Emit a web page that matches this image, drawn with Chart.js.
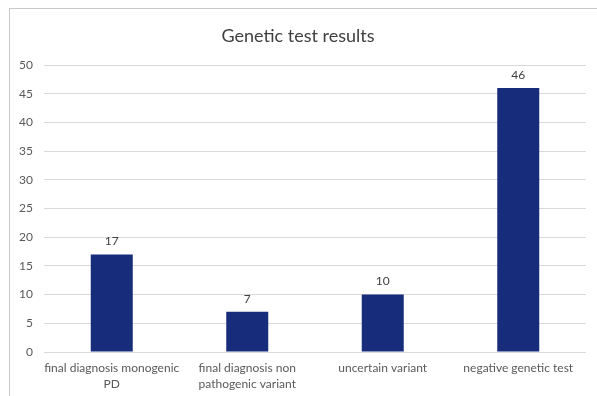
<!DOCTYPE html>
<html>
<head>
<meta charset="utf-8">
<script src="https://cdn.jsdelivr.net/npm/chart.js@4/dist/chart.umd.min.js"></script>
<style>
  html, body { margin: 0; padding: 0; background: #fff; overflow: hidden; }
  #wrap { position: relative; width: 597px; height: 396px; }
  #frame { position: absolute; left: 9px; top: 8px; width: 600px; height: 400px; border: 1px solid #c8c8c8; box-sizing: border-box; }
  canvas { position: absolute; left: 0; top: 0; }
</style>
</head>
<body>
<div id="wrap">
  <div id="frame"></div>
  <canvas id="chart" width="597" height="396"></canvas>
</div>
<script>
// data
const categories = [
  ['final diagnosis monogenic', 'PD'],
  ['final diagnosis non', 'pathogenic variant'],
  'uncertain variant',
  'negative genetic test'
];
const counts = [17, 7, 10, 46];
const yTicks = [0, 5, 10, 15, 20, 25, 30, 35, 40, 45, 50];

const FONT = "Lato, 'Open Sans', sans-serif";

// draw the value above each bar
const valueLabels = {
  id: 'valueLabels',
  afterDatasetsDraw(chart) {
    const ctx = chart.ctx;
    const meta = chart.getDatasetMeta(0);
    ctx.save();
    ctx.font = '12px ' + FONT;
    ctx.fillStyle = '#404040';
    ctx.textAlign = 'center';
    ctx.textBaseline = 'bottom';
    meta.data.forEach((bar, i) => {
      ctx.fillText(String(counts[i]), bar.x, bar.y - 7);
    });
    ctx.restore();
  }
};

new Chart(document.getElementById('chart'), {
  type: 'bar',
  data: {
    labels: categories,
    datasets: [{
      data: counts,
      backgroundColor: '#172d7c',
      borderWidth: 0,
      barPercentage: 0.31,
      categoryPercentage: 1
    }]
  },
  options: {
    responsive: false,
    animation: false,
    layout: { padding: { left: 10, right: 11, top: 11, bottom: 2 } },
    plugins: {
      legend: { display: false },
      tooltip: { enabled: false },
      title: {
        display: true,
        text: 'Genetic test results',
        color: '#404040',
        font: { family: FONT, size: 18, weight: 'normal' },
        padding: { top: 14, bottom: 18.4 }
      }
    },
    scales: {
      y: {
        min: 0,
        max: 50,
        afterBuildTicks(scale) { scale.ticks = yTicks.map(v => ({ value: v })); },
        afterFit(scale) { scale.width = 34; },
        grid: { color: '#d9d9d9', drawTicks: false },
        border: { display: false },
        ticks: { color: '#595959', font: { family: FONT, size: 12 }, padding: 11 }
      },
      x: {
        afterFit(scale) { scale.height = 42; },
        grid: { display: false, drawTicks: false },
        border: { display: false },
        ticks: { color: '#595959', font: { family: FONT, size: 12, lineHeight: 1.35 }, padding: 8, maxRotation: 0, autoSkip: false }
      }
    }
  },
  plugins: [valueLabels]
});
</script>
</body>
</html>
